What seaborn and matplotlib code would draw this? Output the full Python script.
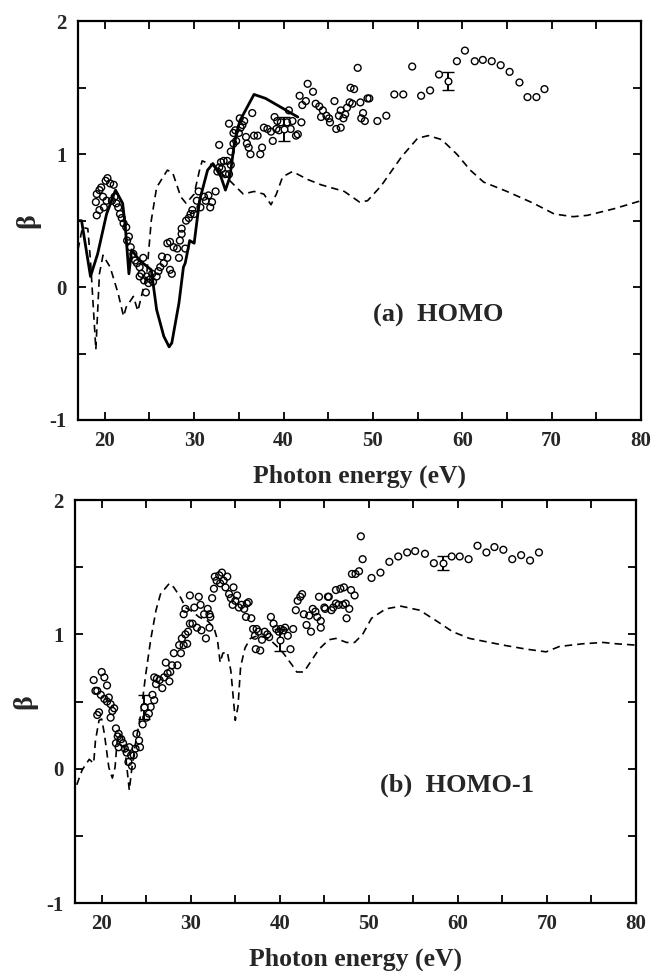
import numpy as np
import matplotlib
matplotlib.use("Agg")
import matplotlib.pyplot as plt
import seaborn as sns
from matplotlib.ticker import MultipleLocator

# ---- (a) HOMO ----
homo_calc_solid_x = [17.1, 17.4, 18.4, 19.2, 20.2, 21.2, 22.0, 22.3, 22.7, 23.0, 23.9, 25.2, 25.8,
                     26.6, 27.2, 27.5, 28.3, 28.8, 29.0, 29.5, 30.0, 30.6, 31.5, 32.1, 33.0, 33.5,
                     34.0, 34.5, 35.1, 36.7, 38.0, 41.6]
homo_calc_solid_y = [0.5, 0.5, 0.08, 0.25, 0.55, 0.73, 0.63, 0.45, 0.1, 0.28, 0.2, 0.13, -0.17,
                     -0.37, -0.45, -0.42, -0.12, 0.15, 0.18, 0.35, 0.33, 0.65, 0.88, 0.93, 0.83, 0.73,
                     0.83, 1.08, 1.25, 1.45, 1.42, 1.28]

homo_calc_dash_x = [17.0, 17.5, 18.1, 18.4, 19.0, 19.4, 19.8, 20.6, 21.5, 22.1, 22.4, 23.2, 23.7,
                    24.1, 24.7, 25.2, 25.8, 27.0, 27.6, 28.5, 29.1, 30.0, 30.6, 30.9, 32.0, 34.0,
                    35.5, 36.7, 37.8, 38.6, 39.2, 39.9, 41.0, 42.7, 44.2, 46.8, 48.5, 49.4, 50.9,
                    53.2, 55.0, 56.2, 57.7, 59.4, 60.9, 62.4, 65.0, 68.0, 70.3, 72.4, 74.0, 77.0, 80.0]
homo_calc_dash_y = [0.28, 0.45, 0.44, 0.2, -0.47, 0.1, 0.24, 0.15, -0.05, -0.22, -0.15, -0.07, -0.18,
                    -0.07, 0.1, 0.5, 0.75, 0.88, 0.86, 0.68, 0.63, 0.7, 0.88, 0.95, 0.92, 0.8,
                    0.7, 0.72, 0.7, 0.62, 0.7, 0.83, 0.87, 0.81, 0.77, 0.72, 0.64, 0.65, 0.76,
                    0.98, 1.12, 1.14, 1.11, 1.0, 0.88, 0.79, 0.72, 0.63, 0.55, 0.53, 0.54, 0.59, 0.65]

homo_exp_x = [19.0, 19.1, 19.4, 19.6, 19.8, 20.1, 20.3, 20.6, 21.0, 19.1, 19.4, 19.9, 20.2, 20.8,
              21.1, 21.3, 21.5, 21.7, 21.9, 22.1, 22.4, 22.5, 22.7, 22.9, 23.2, 23.4, 23.6, 23.9,
              24.1, 24.3, 23.9, 24.4, 24.7, 24.9, 24.6, 25.1, 25.3, 25.4, 25.8, 26.0, 26.2, 26.4,
              26.6, 27.0, 27.3, 27.5, 27.0, 27.3, 27.7, 28.1, 28.3, 28.4, 28.6, 28.6, 29.0, 29.1,
              29.4, 29.6, 29.8, 30.0, 30.3, 30.5, 30.7, 31.1, 31.3, 31.6, 31.8, 32.0, 32.4, 32.6,
              32.8, 33.0, 33.1, 33.3, 33.5, 33.7, 33.9, 34.1, 34.1, 34.4, 34.4, 34.6, 34.7, 35.0,
              35.2, 35.1, 35.4, 35.6, 35.8, 35.9, 36.1, 36.3, 36.5, 36.7, 37.1, 33.9, 32.8, 37.4,
              37.6, 37.8, 38.2, 38.6, 38.8, 39.0, 39.2, 39.3, 39.5, 39.7, 40.4, 40.6, 40.8, 41.0,
              41.4, 41.6, 42.0, 41.8, 42.7, 43.3, 42.1, 42.5, 43.6, 44.0, 44.4, 44.2, 44.8, 45.2,
              45.1, 45.7, 45.9, 46.2, 46.4, 46.4, 46.7, 46.9, 47.1, 47.4, 47.5, 47.7, 47.9, 48.3,
              48.6, 48.7, 48.9, 49.1, 49.4, 49.6, 50.5, 51.5, 52.4, 53.4, 54.4, 55.4, 56.4, 57.4,
              59.4, 60.3, 61.4, 62.3, 63.3, 64.3, 65.3, 66.4, 67.3, 68.3, 69.2]
homo_exp_y = [0.64, 0.7, 0.73, 0.75, 0.68, 0.8, 0.82, 0.78, 0.77, 0.54, 0.58, 0.6, 0.65, 0.65,
              0.68, 0.63, 0.6, 0.55, 0.52, 0.48, 0.45, 0.35, 0.38, 0.3, 0.25, 0.2, 0.18, 0.15,
              0.1, 0.22, 0.08, 0.05, 0.08, 0.03, -0.04, 0.06, 0.1, 0.04, 0.08, 0.12, 0.15, 0.23,
              0.18, 0.22, 0.13, 0.1, 0.33, 0.34, 0.3, 0.29, 0.22, 0.35, 0.4, 0.44, 0.29, 0.5,
              0.52, 0.55, 0.58, 0.55, 0.65, 0.72, 0.6, 0.68, 0.65, 0.69, 0.6, 0.64, 0.72, 0.87,
              0.9, 0.94, 0.89, 0.95, 0.85, 0.95, 0.85, 0.92, 1.02, 1.08, 1.16, 1.18, 1.1, 1.16,
              1.2, 1.27, 1.22, 1.25, 1.13, 1.08, 1.05, 1.0, 1.31, 1.14, 1.14, 1.23, 1.07, 1.0,
              1.05, 1.2, 1.19, 1.17, 1.1, 1.28, 1.19, 1.25, 1.18, 1.24, 1.24, 1.33, 1.19, 1.25,
              1.14, 1.15, 1.24, 1.44, 1.53, 1.47, 1.37, 1.4, 1.38, 1.36, 1.33, 1.28, 1.29, 1.24,
              1.27, 1.4, 1.19, 1.29, 1.33, 1.2, 1.27, 1.3, 1.35, 1.39, 1.5, 1.38, 1.49, 1.65,
              1.39, 1.27, 1.31, 1.25, 1.42, 1.42, 1.25, 1.29, 1.45, 1.45, 1.66, 1.44, 1.48, 1.6,
              1.7, 1.78, 1.7, 1.71, 1.7, 1.67, 1.62, 1.54, 1.43, 1.43, 1.49]
homo_err_x = [40.0, 58.4]
homo_err_y = [1.19, 1.55]
homo_err = [0.09, 0.07]

# ---- (b) HOMO-1 ----
homo1_calc_dash_x = [17.2, 17.8, 18.6, 19.1, 19.3, 19.7, 20.0, 20.3, 20.8, 21.2, 21.5, 21.8, 22.3,
                     22.7, 23.1, 23.4, 23.8, 24.4, 24.9, 25.5, 26.1, 26.6, 27.6, 28.1, 28.9, 29.4,
                     30.2, 30.9, 31.9, 32.6, 33.0, 33.3, 33.6, 34.1, 34.5, 34.8, 35.0, 35.3, 35.6,
                     36.1, 36.7, 37.5, 38.2, 38.9, 39.7, 40.4, 41.4, 41.9, 42.7, 43.4, 44.4, 45.5,
                     46.3, 47.5, 48.4, 49.3, 50.3, 51.9, 53.6, 55.7, 57.6, 59.4, 61.3, 65.1, 67.7,
                     69.9, 71.4, 74.0, 76.3, 77.8, 80.0]
homo1_calc_dash_y = [-0.12, -0.01, 0.07, 0.04, 0.21, 0.36, 0.37, 0.26, 0.01, -0.07, 0.01, 0.26, 0.24,
                     0.09, -0.16, 0.01, 0.19, 0.41, 0.68, 0.96, 1.18, 1.3, 1.38, 1.35, 1.27, 1.2,
                     1.17, 1.13, 1.1, 1.05, 0.96, 0.79, 0.86, 0.87, 0.73, 0.51, 0.36, 0.46, 0.76,
                     0.9, 0.97, 0.99, 0.98, 0.96, 0.91, 0.86, 0.77, 0.72, 0.72, 0.79, 0.89, 0.96,
                     0.97, 0.94, 0.94, 1.0, 1.12, 1.19, 1.21, 1.18, 1.1, 1.02, 0.97, 0.92, 0.89,
                     0.87, 0.91, 0.93, 0.94, 0.93, 0.92]

homo1_exp_x = [19.1, 19.3, 19.5, 19.5, 19.7, 20.0, 20.3, 19.9, 20.3, 20.6, 20.6, 20.8, 21.0, 21.2,
               21.0, 21.4, 21.6, 21.8, 21.9, 21.6, 21.9, 22.2, 22.4, 22.6, 22.8, 23.1, 23.3, 23.0,
               23.4, 23.6, 23.8, 23.9, 24.2, 24.3, 24.6, 24.8, 25.0, 25.3, 25.5, 25.7, 25.9,
               26.1, 25.9, 26.2, 26.5, 26.8, 27.0, 27.2, 27.4, 27.6, 27.7, 27.9, 28.1, 28.5, 28.7,
               28.9, 29.0, 29.2, 29.4, 29.6, 29.7, 29.9, 29.2, 29.4, 29.9, 30.2, 30.4, 30.7, 30.9,
               31.1, 31.2, 31.5, 31.7, 31.9, 32.1, 32.2, 32.1, 32.4, 32.6, 32.7, 32.9, 33.2, 33.3,
               33.5, 33.7, 33.9, 34.1, 34.3, 34.5, 34.7, 34.8, 35.0, 35.2, 35.4, 35.7, 36.0, 36.3,
               36.5, 36.2, 36.8, 37.0, 37.2, 37.4, 37.6, 37.3, 37.8, 38.0, 38.3, 38.6, 38.8, 39.0,
               39.3, 39.6, 39.9, 40.1, 40.4, 40.6, 40.9, 41.2, 41.5, 41.8, 42.0, 42.3, 42.5, 42.7,
               43.0, 43.3, 43.5, 43.7, 44.0, 44.2, 44.4, 44.6, 45.0, 45.1, 45.5, 44.6, 45.4, 45.8,
               46.0, 46.3, 46.3, 46.6, 46.8, 47.1, 47.2, 47.4, 47.5, 47.8, 48.0, 48.4, 48.1, 48.5,
               48.9, 49.1, 49.3, 50.3, 51.3, 52.3, 53.3, 54.3, 55.2, 56.3, 57.3, 59.3, 60.2, 61.2,
               62.2, 63.2, 64.1, 65.1, 66.1, 67.1, 68.1, 69.1]
homo1_exp_y = [0.66, 0.58, 0.58, 0.4, 0.42, 0.72, 0.68, 0.55, 0.52, 0.5, 0.62, 0.53, 0.48, 0.43,
               0.38, 0.45, 0.3, 0.24, 0.26, 0.19, 0.16, 0.22, 0.19, 0.15, 0.12, 0.16, 0.1, 0.05,
               0.02, 0.1, 0.15, 0.26, 0.21, 0.16, 0.33, 0.46, 0.38, 0.41, 0.46, 0.55, 0.51,
               0.63, 0.68, 0.67, 0.66, 0.6, 0.68, 0.79, 0.71, 0.65, 0.72, 0.77, 0.86, 0.77, 0.92,
               0.86, 0.97, 0.92, 1.0, 0.93, 1.02, 1.08, 1.15, 1.19, 1.29, 1.08, 1.2, 1.05, 1.28,
               1.22, 1.03, 1.15, 0.97, 1.19, 1.15, 1.13, 1.05, 1.27, 1.34, 1.43, 1.4, 1.44, 1.38,
               1.46, 1.4, 1.35, 1.43, 1.3, 1.27, 1.22, 1.35, 1.25, 1.29, 1.2, 1.22, 1.19, 1.23,
               1.24, 1.13, 1.12, 1.04, 0.99, 1.04, 1.02, 0.89, 0.88, 0.96, 1.02, 1.0, 0.98, 1.13,
               1.08, 1.04, 1.02, 1.04, 1.03, 1.05, 0.99, 0.89, 1.04, 1.18, 1.25, 1.28, 1.3, 1.15,
               1.07, 1.14, 1.02, 1.19, 1.17, 1.13, 1.28, 1.05, 1.2, 1.19, 1.28, 1.1, 1.28, 1.18,
               1.2, 1.23, 1.33, 1.22, 1.34, 1.22, 1.35, 1.23, 1.12, 1.19, 1.33, 1.29, 1.45, 1.45,
               1.47, 1.73, 1.56, 1.42, 1.46, 1.54, 1.58, 1.61, 1.62, 1.6, 1.53, 1.58, 1.58, 1.56,
               1.66, 1.61, 1.65, 1.63, 1.56, 1.59, 1.55, 1.61]
homo1_err_x = [24.7, 40.0, 58.3]
homo1_err_y = [0.46, 0.96, 1.53]
homo1_err = [0.09, 0.08, 0.05]

sns.set_theme(style="ticks")
plt.rcParams['font.family'] = ['Liberation Serif', 'DejaVu Serif']
plt.rcParams['font.weight'] = 'bold'
plt.rcParams['axes.unicode_minus'] = False

fig = plt.figure(figsize=(6.52, 9.71), dpi=100)
ax1 = fig.add_axes([0.1196, 0.5675, 0.8635, 0.4105])
ax2 = fig.add_axes([0.115, 0.070, 0.8605, 0.415])


def draw_panel(ax, exp_x, exp_y, err_x, err_y, err, dash_x, dash_y, solid_x=None, solid_y=None):
    sns.lineplot(x=dash_x, y=dash_y, ax=ax, color='black', lw=1.2, ls=(0, (4.5, 3)),
                 estimator=None, sort=False)
    if solid_x is not None:
        sns.lineplot(x=solid_x, y=solid_y, ax=ax, color='black', lw=2.0,
                     estimator=None, sort=False)
    sns.scatterplot(x=exp_x, y=exp_y, ax=ax, marker='o', s=24, facecolors='none',
                    edgecolor='black', linewidth=1.0, zorder=3)
    ax.errorbar(err_x, err_y, yerr=err, fmt='o', ms=4.8, mfc='white', mec='black',
                mew=1.0, ecolor='black', elinewidth=1.4, capsize=4, capthick=1.4, zorder=4)
    ax.set_xlim(17, 80)
    ax.set_ylim(-1, 2)
    ax.xaxis.set_major_locator(MultipleLocator(10))
    ax.xaxis.set_minor_locator(MultipleLocator(5))
    ax.yaxis.set_major_locator(MultipleLocator(1))
    ax.yaxis.set_minor_locator(MultipleLocator(0.5))
    ax.tick_params(which='both', direction='in', top=True, right=True, length=6, width=1.3,
                   labelsize=15, pad=8, color='black')
    for lab in ax.get_xticklabels() + ax.get_yticklabels():
        lab.set_fontweight('bold')
    for sp in ax.spines.values():
        sp.set_linewidth(1.6)
        sp.set_color('black')
    ax.set_xlabel('Photon energy (eV)', fontsize=18.5, fontweight='bold', labelpad=10)
    ax.set_ylabel('β', fontsize=20, fontweight='bold', labelpad=7)


draw_panel(ax1, homo_exp_x, homo_exp_y, homo_err_x, homo_err_y, homo_err,
           homo_calc_dash_x, homo_calc_dash_y, homo_calc_solid_x, homo_calc_solid_y)
ax1.text(50, -0.21, '(a)  HOMO', fontsize=19, fontweight='bold', va='center', ha='left')

draw_panel(ax2, homo1_exp_x, homo1_exp_y, homo1_err_x, homo1_err_y, homo1_err,
           homo1_calc_dash_x, homo1_calc_dash_y)
ax2.text(51.2, -0.12, '(b)  HOMO-1', fontsize=19, fontweight='bold', va='center', ha='left')

fig.savefig('out.png', dpi=100, facecolor='white')
